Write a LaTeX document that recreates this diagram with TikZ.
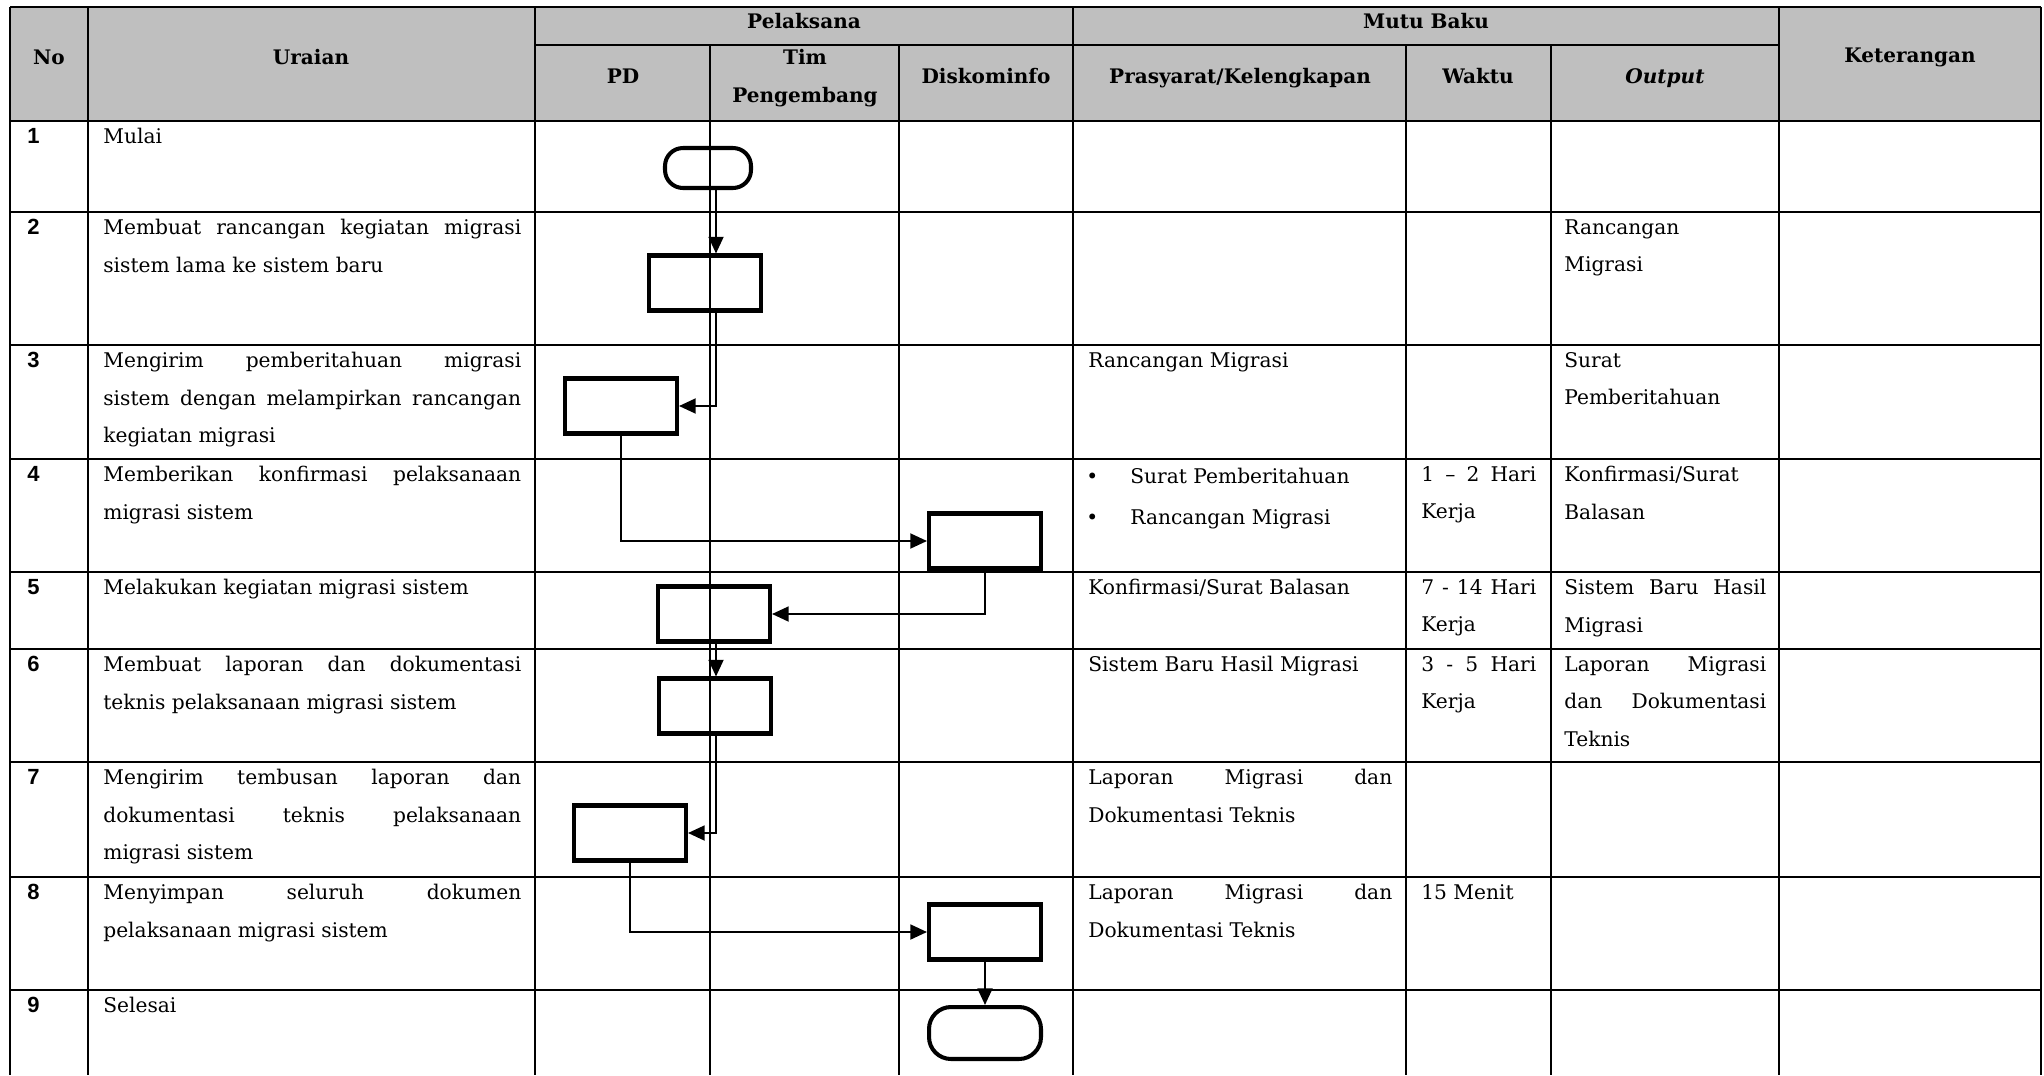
\documentclass[tikz,border=0pt]{standalone}
\usepackage{fontspec}
\setmainfont{DejaVu Serif}
\newfontfamily\numfont{Liberation Sans}
\usetikzlibrary{arrows.meta}
\definecolor{headGray}{HTML}{BFBFBF}

\hyphenpenalty=10000
\tikzset{
  gridline/.style={line width=1.1pt},
  celltext/.style={anchor=north west, inner sep=0pt, align=justify,
    font=\fontsize{11.5}{21.4}\selectfont},
  headtext/.style={inner sep=0pt, align=center,
    font=\fontsize{11.4}{21.4}\selectfont\bfseries},
  numtext/.style={anchor=north west, inner sep=0pt,
    font=\fontsize{12.5}{14}\selectfont\numfont\bfseries},
  stepbox/.style={draw, line width=2.3pt, minimum width=2.24cm,
    minimum height=1.1cm, inner sep=0pt},
  termbox/.style={stepbox, rounded corners=0.36cm},
  flow/.style={line width=1.2pt, -{Triangle[length=9.5pt,width=8.5pt]}},
}

\begin{document}
\begin{tikzpicture}[x=0.02cm, y=-0.02cm]

    \useasboundingbox (0,0) rectangle (2044,1075);

    % header background
    \fill[headGray] (10,7) rectangle (2041,121);

    % horizontal rules
    \draw[gridline] (10,7) -- (2041,7);
    \draw[gridline] (535,45) -- (1779,45);
    \draw[line width=1.7pt] (10,121) -- (2041,121);
    \foreach \y in {212,345,459,572,649,762,877,990}
        \draw[gridline] (10,\y) -- (2041,\y);

    % vertical rules
    \foreach \x in {10,88,535,1073,1779,2041}
        \draw[gridline] (\x,7) -- (\x,1075);
    \foreach \x in {710,899,1406,1551}
        \draw[gridline] (\x,45) -- (\x,1075);

    % header texts
    \node[headtext] (hNo) at (49,57) {No};
    \node[headtext] (hUraian) at (311,57) {Uraian};
    \node[headtext] (hPelaksana) at (804,21) {Pelaksana};
    \node[headtext] (hMutu) at (1426,21) {Mutu Baku};
    \node[headtext] (hKet) at (1910,57) {Keterangan};
    \node[headtext] (hPD) at (623,76) {PD};
    \node[headtext] (hTim) at (805,78) {Tim\\Pengembang};
    \node[headtext] (hDisk) at (986,76) {Diskominfo};
    \node[headtext] (hPras) at (1240,78) {Prasyarat/Kelengkapan};
    \node[headtext] (hWaktu) at (1478,76) {Waktu};
    \node[headtext] (hOut) at (1665,78) {\itshape Output};

    % step numbers
    \node[numtext] (n1) at (27,128) {1};
    \node[numtext] (n2) at (27,219) {2};
    \node[numtext] (n3) at (27,352) {3};
    \node[numtext] (n4) at (27,466) {4};
    \node[numtext] (n5) at (27,579) {5};
    \node[numtext] (n6) at (27,656) {6};
    \node[numtext] (n7) at (27,769) {7};
    \node[numtext] (n8) at (27,884) {8};
    \node[numtext] (n9) at (27,997) {9};

    % uraian
    \node[celltext, text width=8.36cm] (u1) at (103,128) {Mulai};
    \node[celltext, text width=8.36cm] (u2) at (103,219)
        {Membuat rancangan kegiatan migrasi\linebreak sistem lama ke sistem baru};
    \node[celltext, text width=8.36cm] (u3) at (103,352)
        {Mengirim pemberitahuan migrasi\linebreak sistem dengan melampirkan rancangan\linebreak kegiatan migrasi};
    \node[celltext, text width=8.36cm] (u4) at (103,466)
        {Memberikan konfirmasi pelaksanaan\linebreak migrasi sistem};
    \node[celltext, text width=8.36cm] (u5) at (103,579)
        {Melakukan kegiatan migrasi sistem};
    \node[celltext, text width=8.36cm] (u6) at (103,656)
        {Membuat laporan dan dokumentasi\linebreak teknis pelaksanaan migrasi sistem};
    \node[celltext, text width=8.36cm] (u7) at (103,769)
        {Mengirim tembusan laporan dan\linebreak dokumentasi teknis pelaksanaan\linebreak migrasi sistem};
    \node[celltext, text width=8.36cm] (u8) at (103,884)
        {Menyimpan seluruh dokumen\linebreak pelaksanaan migrasi sistem};
    \node[celltext, text width=8.36cm] (u9) at (103,997) {Selesai};

    % prasyarat / kelengkapan
    \node[celltext, text width=6.08cm] (pre3) at (1088,352) {Rancangan Migrasi};
    \node[celltext, text width=6.08cm] (pre4) at (1086,468)
        {\makebox[0.88cm][l]{\textbullet}Surat Pemberitahuan\\[0.06cm]
         \makebox[0.88cm][l]{\textbullet}Rancangan Migrasi};
    \node[celltext, text width=6.08cm] (pre5) at (1088,579) {Konfirmasi/Surat Balasan};
    \node[celltext, text width=6.08cm] (pre6) at (1088,656) {Sistem Baru Hasil Migrasi};
    \node[celltext, text width=6.08cm] (pre7) at (1088,769)
        {Laporan Migrasi dan\linebreak Dokumentasi Teknis};
    \node[celltext, text width=6.08cm] (pre8) at (1088,884)
        {Laporan Migrasi dan\linebreak Dokumentasi Teknis};

    % waktu
    \node[celltext, text width=2.3cm] (wkt4) at (1421,466) {1 -- 2 Hari\linebreak Kerja};
    \node[celltext, text width=2.3cm] (wkt5) at (1421,579) {7 - 14 Hari\linebreak Kerja};
    \node[celltext, text width=2.3cm] (wkt6) at (1421,656) {3 - 5 Hari\linebreak Kerja};
    \node[celltext, text width=2.3cm] (wkt8) at (1421,884) {15 Menit};

    % output
    \node[celltext, text width=4.04cm] (out2) at (1564,219) {Rancangan\\Migrasi};
    \node[celltext, text width=4.04cm] (out3) at (1564,352) {Surat\\Pemberitahuan};
    \node[celltext, text width=4.04cm] (out4) at (1564,466) {Konfirmasi/Surat\\Balasan};
    \node[celltext, text width=4.04cm] (out5) at (1564,579) {Sistem Baru Hasil\linebreak Migrasi};
    \node[celltext, text width=4.04cm] (out6) at (1564,656)
        {Laporan Migrasi\linebreak dan Dokumentasi\linebreak Teknis};

    % flowchart symbols
    \coordinate (trunk) at (716,0);
    \node[termbox, minimum width=1.72cm, minimum height=0.8cm] (mulai) at (708,168) {};
    \node[stepbox] (act2) at (705,283) {};
    \node[stepbox] (act3) at (621,406) {};
    \node[stepbox] (act4) at (985,541) {};
    \node[stepbox] (act5) at (714,614) {};
    \node[stepbox] (act6) at (715,706) {};
    \node[stepbox] (act7) at (630,833) {};
    \node[stepbox] (act8) at (985,932) {};
    \node[termbox, minimum height=1.04cm, rounded corners=0.44cm] (selesai) at (985,1033) {};

    % flow connectors
    \draw[flow] (mulai.south -| trunk) -- (act2.north -| trunk);
    \draw[flow] (act2.south -| trunk) |- (act3.east);
    \draw[flow] (act3.south) |- (act4.west);
    \draw[flow] (act4.south) |- (act5.east);
    \draw[flow] (act5.south -| trunk) -- (act6.north -| trunk);
    \draw[flow] (act6.south -| trunk) |- (act7.east);
    \draw[flow] (act7.south) |- (act8.west);
    \draw[flow] (act8.south) -- (selesai.north);

\end{tikzpicture}
\end{document}
